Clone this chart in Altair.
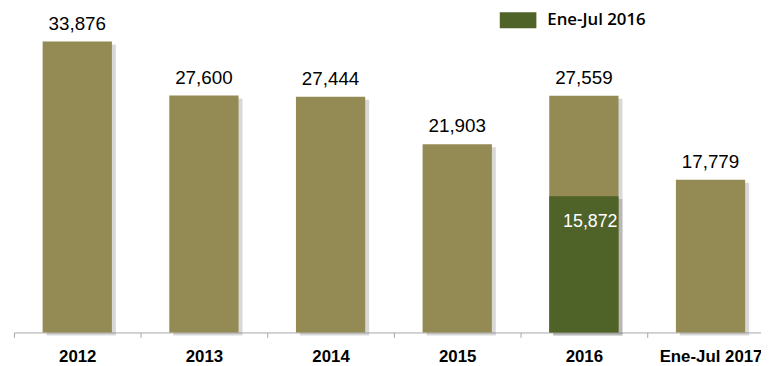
import altair as alt
import pandas as pd

years = ["2012", "2013", "2014", "2015", "2016", "Ene-Jul 2017"]
values = [33876, 27600, 27444, 21903, 27559, 17779]

partial_series = ["Ene-Jul 2016"]
partial_years = ["2016"]
partial_values = [15872]

KHAKI = "#948A54"
GREEN = "#4F6228"

df = pd.DataFrame({"year": years, "value": values})
dp = pd.DataFrame({"year": partial_years, "value": partial_values, "serie": partial_series})

x_enc = alt.X(
    "year:N",
    sort=years,
    scale=alt.Scale(domain=years, range=[0, 768], paddingInner=0, paddingOuter=0),
    axis=alt.Axis(
        title=None,
        labelAngle=0,
        tickBand="extent",
        domainColor="#A6A6A6",
        tickColor="#A6A6A6",
        tickSize=5,
        labelFont="Liberation Sans",
        labelFontSize=17,
        labelFontWeight="bold",
        labelColor="#000000",
        labelPadding=11,
        grid=False,
    ),
)
y_enc = alt.Y(
    "value:Q",
    scale=alt.Scale(domain=[0, 37563], nice=False, zero=True),
    axis=None,
)

base = alt.Chart(df)
partial = alt.Chart(dp)

shadow = base.mark_bar(size=70, color="#7F7F7F", opacity=0.3, xOffset=4, yOffset=3).encode(x=x_enc, y=y_enc)
bars = base.mark_bar(size=70, color=KHAKI).encode(x=x_enc, y=y_enc)
labels = base.mark_text(
    baseline="alphabetic", dy=-12, fontSize=19, font="Liberation Sans", color="#000000"
).encode(x=x_enc, y=y_enc, text=alt.Text("value:Q", format=","))

pshadow = partial.mark_bar(size=70, color="#7F7F7F", opacity=0.35, xOffset=4, yOffset=3).encode(x=x_enc, y=y_enc)
pbars = partial.mark_bar(size=70, opacity=1).encode(
    x=x_enc,
    y=y_enc,
    color=alt.Color(
        "serie:N",
        scale=alt.Scale(domain=partial_series, range=[GREEN]),
        legend=alt.Legend(
            title=None,
            orient="none",
            legendX=501,
            legendY=2,
            symbolType="M-2.176,-0.941L2.176,-0.941L2.176,0.941L-2.176,0.941Z",
            symbolSize=289,
            symbolStrokeWidth=0,
            symbolOpacity=1,
            labelFont="Open Sans",
            labelFontSize=17,
            labelFontWeight=600,
            labelColor="#000000",
            labelOffset=21,
            labelLimit=0,
            padding=0,
        ),
    ),
)
plabels = partial.mark_text(
    baseline="alphabetic",
    align="right",
    dx=34,
    dy=31,
    fontSize=18,
    font="Liberation Sans",
    color="#FFFFFF",
).encode(x=x_enc, y=y_enc, text=alt.Text("value:Q", format=","))

chart = (
    alt.layer(shadow, bars, labels, pshadow, pbars, plabels)
    .properties(
        width=755,
        height=326,
        autosize=alt.AutoSizeParams(type="none"),
        padding={"left": 6, "top": 0, "right": 0, "bottom": 32},
        background="#FFFFFF",
    )
    .configure_view(stroke=None)
)

chart.save("out.html", embed_options={"renderer": "svg", "actions": False})
